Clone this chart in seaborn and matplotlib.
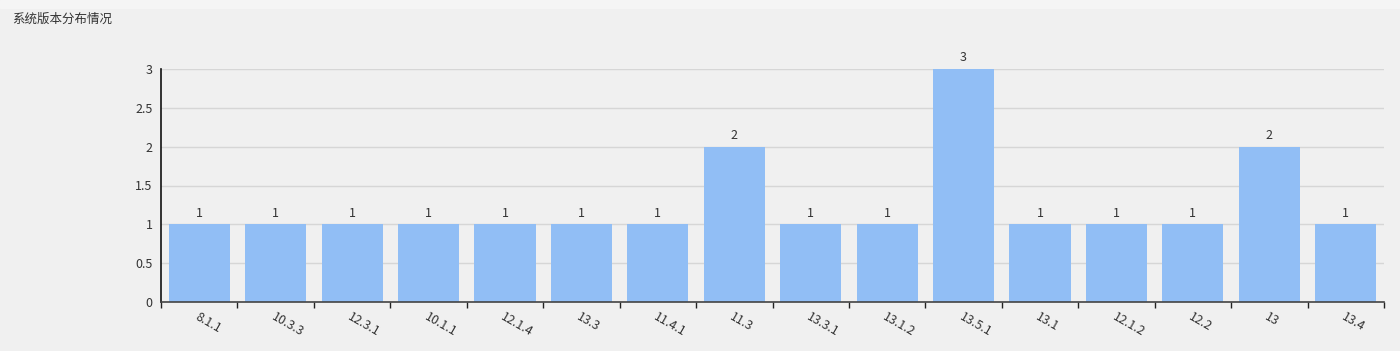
import matplotlib
matplotlib.use("Agg")
import matplotlib.pyplot as plt
import seaborn as sns
import pandas as pd
import numpy as np

versions = ["8.1.1", "10.3.3", "12.3.1", "10.1.1", "12.1.4", "13.3", "11.4.1", "11.3",
            "13.3.1", "13.1.2", "13.5.1", "13.1", "12.1.2", "12.2", "13", "13.4"]
counts = [1, 1, 1, 1, 1, 1, 1, 2, 1, 1, 3, 1, 1, 1, 2, 1]
y_ticks = [0, 0.5, 1, 1.5, 2, 2.5, 3]
title = "系统版本分布情况"

sns.set_theme(style="white")
plt.rcParams["font.family"] = ["Noto Sans CJK SC", "DejaVu Sans"]

bg = "#f0f0f0"
fig = plt.figure(figsize=(14, 3.51), dpi=100, facecolor=bg)
# slightly lighter header strip
fig.patches.append(plt.Rectangle((0, 1 - 8 / 351), 1, 8 / 351, transform=fig.transFigure,
                                 color="#f5f5f5", zorder=0))
ax = fig.add_axes([161 / 1400, 1 - 302 / 351, (1384 - 161) / 1400, (302 - 69) / 351])
ax.set_facecolor(bg)

df = pd.DataFrame({"version": versions, "count": counts})
sns.barplot(data=df, x="version", y="count", color="#91bef5", saturation=1,
            width=0.8, linewidth=0, ax=ax, zorder=2)

ax.set_ylim(0, 3)
ax.set_xlim(-0.5, len(versions) - 0.5)
ax.set_yticks(y_ticks)
ax.set_yticklabels([f"{t:g}" for t in y_ticks], fontsize=9, color="#333333")
ax.yaxis.grid(True, color="#d6d6d6", linewidth=1, zorder=0)
ax.tick_params(axis="y", length=4, width=1, color="#333333", pad=2)

# category labels at centres, tick marks at category boundaries
ax.set_xticks(range(len(versions)))
ax.set_xticklabels(versions, rotation=-30, ha="left", rotation_mode="anchor",
                   fontsize=9, color="#333333")
ax.tick_params(axis="x", which="major", length=0, pad=6)
ax.set_xticks(np.arange(-0.5, len(versions), 1), minor=True)
ax.tick_params(axis="x", which="minor", length=4, width=1, color="#222222", bottom=True)

for side in ["top", "right"]:
    ax.spines[side].set_visible(False)
ax.spines["left"].set_color("#111111")
ax.spines["left"].set_linewidth(1.2)
ax.spines["bottom"].set_color("#444444")
ax.spines["bottom"].set_linewidth(1.2)

for i, c in enumerate(counts):
    ax.text(i, c + 0.06, f"{c}", ha="center", va="bottom", fontsize=9, color="#333333")

ax.set_xlabel("")
ax.set_ylabel("")

fig.text(12 / 1400, 1 - 19 / 351, title, fontsize=9, color="#333333", va="center", ha="left")

fig.savefig("out.png", dpi=100, facecolor=bg)
